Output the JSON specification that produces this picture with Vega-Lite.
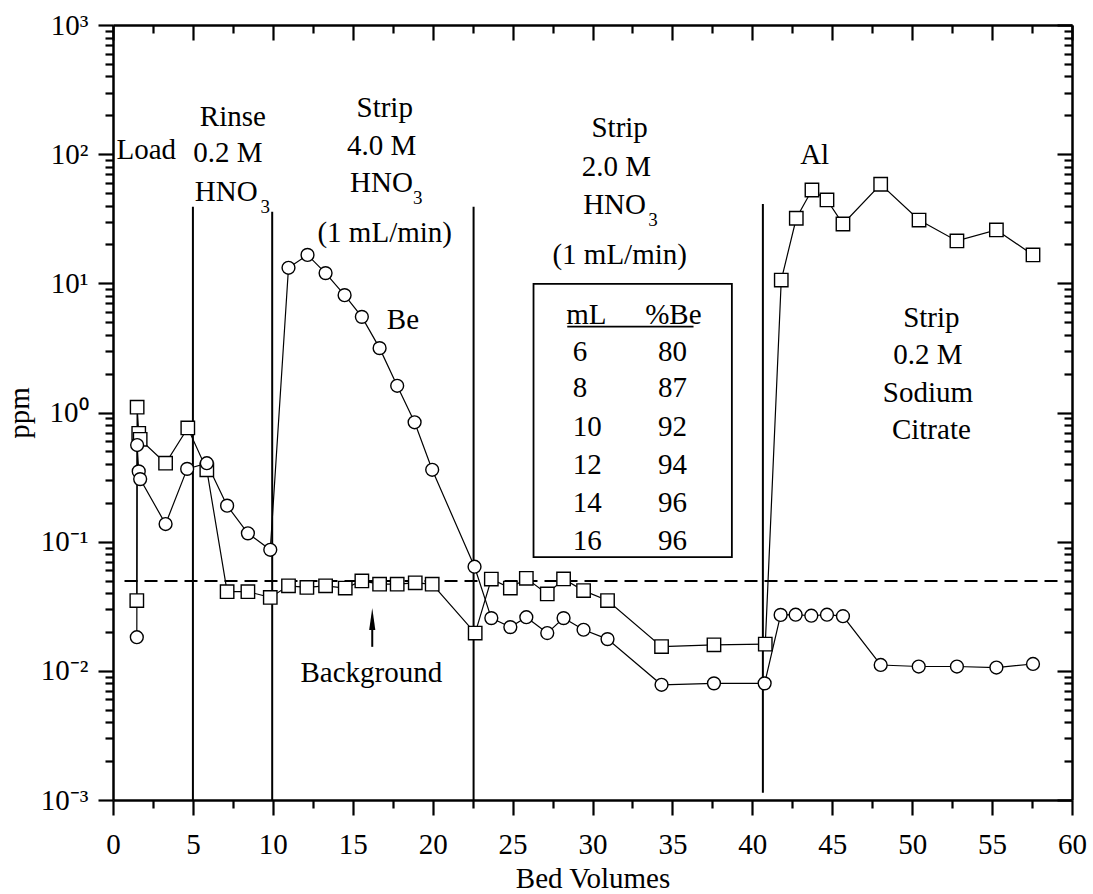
{
  "$schema": "https://vega.github.io/schema/vega-lite/v6.json",
  "autosize": {"type": "none"},
  "padding": {"left": 113, "top": 25, "right": 21, "bottom": 94},
  "width": 959,
  "height": 775,
  "background": "white",
  "config": {
    "view": {"stroke": null},
    "font": "Liberation Serif",
    "axis": {
      "grid": false,
      "ticks": true,
      "domainColor": "black",
      "domainWidth": 2.5,
      "tickColor": "black",
      "tickWidth": 2.2,
      "labelColor": "black",
      "labelFont": "Liberation Serif",
      "labelFontSize": 29,
      "titleFont": "Liberation Serif",
      "titleFontSize": 29,
      "titleFontWeight": "normal",
      "titleColor": "black",
      "labelOverlap": false,
      "labelFlush": false,
      "labelBound": false
    }
  },
  "datasets": {
    "al": [
      {"seq": 1, "bv": 1.49, "ppm": 0.035},
      {"seq": 2, "bv": 1.51, "ppm": 1.1},
      {"seq": 3, "bv": 1.61, "ppm": 0.69},
      {"seq": 4, "bv": 1.7, "ppm": 0.62},
      {"seq": 5, "bv": 3.29, "ppm": 0.405},
      {"seq": 6, "bv": 4.68, "ppm": 0.76},
      {"seq": 7, "bv": 5.87, "ppm": 0.36},
      {"seq": 8, "bv": 7.14, "ppm": 0.041},
      {"seq": 9, "bv": 8.44, "ppm": 0.041},
      {"seq": 10, "bv": 9.84, "ppm": 0.037},
      {"seq": 11, "bv": 10.98, "ppm": 0.0455},
      {"seq": 12, "bv": 12.13, "ppm": 0.0442},
      {"seq": 13, "bv": 13.3, "ppm": 0.0455},
      {"seq": 14, "bv": 14.53, "ppm": 0.0437},
      {"seq": 15, "bv": 15.57, "ppm": 0.0497},
      {"seq": 16, "bv": 16.68, "ppm": 0.0469},
      {"seq": 17, "bv": 17.78, "ppm": 0.0469},
      {"seq": 18, "bv": 18.91, "ppm": 0.048},
      {"seq": 19, "bv": 19.97, "ppm": 0.0469},
      {"seq": 20, "bv": 22.66, "ppm": 0.0196},
      {"seq": 21, "bv": 23.67, "ppm": 0.0513},
      {"seq": 22, "bv": 24.86, "ppm": 0.0437},
      {"seq": 23, "bv": 25.86, "ppm": 0.052},
      {"seq": 24, "bv": 27.17, "ppm": 0.0394},
      {"seq": 25, "bv": 28.19, "ppm": 0.0515},
      {"seq": 26, "bv": 29.44, "ppm": 0.0418},
      {"seq": 27, "bv": 30.94, "ppm": 0.035},
      {"seq": 28, "bv": 34.32, "ppm": 0.0154},
      {"seq": 29, "bv": 37.6, "ppm": 0.0159},
      {"seq": 30, "bv": 40.81, "ppm": 0.0161},
      {"seq": 31, "bv": 41.81, "ppm": 10.6},
      {"seq": 32, "bv": 42.75, "ppm": 31.9},
      {"seq": 33, "bv": 43.73, "ppm": 52.8},
      {"seq": 34, "bv": 44.67, "ppm": 44.2},
      {"seq": 35, "bv": 45.67, "ppm": 28.8},
      {"seq": 36, "bv": 48.03, "ppm": 58.5},
      {"seq": 37, "bv": 50.43, "ppm": 30.9},
      {"seq": 38, "bv": 52.8, "ppm": 21.3},
      {"seq": 39, "bv": 55.27, "ppm": 25.9},
      {"seq": 40, "bv": 57.56, "ppm": 16.6}
    ],
    "be": [
      {"seq": 1, "bv": 1.49, "ppm": 0.0182},
      {"seq": 2, "bv": 1.51, "ppm": 0.56},
      {"seq": 3, "bv": 1.61, "ppm": 0.35},
      {"seq": 4, "bv": 1.7, "ppm": 0.305},
      {"seq": 5, "bv": 3.29, "ppm": 0.137},
      {"seq": 6, "bv": 4.64, "ppm": 0.366},
      {"seq": 7, "bv": 5.87, "ppm": 0.405},
      {"seq": 8, "bv": 7.14, "ppm": 0.19},
      {"seq": 9, "bv": 8.44, "ppm": 0.116},
      {"seq": 10, "bv": 9.84, "ppm": 0.0865},
      {"seq": 11, "bv": 10.98, "ppm": 13.2},
      {"seq": 12, "bv": 12.17, "ppm": 16.6},
      {"seq": 13, "bv": 13.3, "ppm": 12.0},
      {"seq": 14, "bv": 14.49, "ppm": 8.1},
      {"seq": 15, "bv": 15.57, "ppm": 5.5},
      {"seq": 16, "bv": 16.68, "ppm": 3.15},
      {"seq": 17, "bv": 17.78, "ppm": 1.61},
      {"seq": 18, "bv": 18.87, "ppm": 0.84},
      {"seq": 19, "bv": 19.97, "ppm": 0.36},
      {"seq": 20, "bv": 22.62, "ppm": 0.064},
      {"seq": 21, "bv": 23.67, "ppm": 0.0256},
      {"seq": 22, "bv": 24.86, "ppm": 0.0218},
      {"seq": 23, "bv": 25.86, "ppm": 0.026},
      {"seq": 24, "bv": 27.17, "ppm": 0.0196},
      {"seq": 25, "bv": 28.19, "ppm": 0.0256},
      {"seq": 26, "bv": 29.44, "ppm": 0.0208},
      {"seq": 27, "bv": 30.94, "ppm": 0.0176},
      {"seq": 28, "bv": 34.32, "ppm": 0.0078},
      {"seq": 29, "bv": 37.6, "ppm": 0.008},
      {"seq": 30, "bv": 40.77, "ppm": 0.008},
      {"seq": 31, "bv": 41.77, "ppm": 0.0271},
      {"seq": 32, "bv": 42.71, "ppm": 0.0272},
      {"seq": 33, "bv": 43.69, "ppm": 0.0267},
      {"seq": 34, "bv": 44.67, "ppm": 0.0272},
      {"seq": 35, "bv": 45.67, "ppm": 0.0265},
      {"seq": 36, "bv": 48.03, "ppm": 0.0111},
      {"seq": 37, "bv": 50.41, "ppm": 0.0108},
      {"seq": 38, "bv": 52.8, "ppm": 0.0108},
      {"seq": 39, "bv": 55.27, "ppm": 0.0106},
      {"seq": 40, "bv": 57.56, "ppm": 0.0113}
    ],
    "phases": [
      {"bv": 5.0, "top": 39.2, "bottom": 0.001},
      {"bv": 9.96, "top": 35.9, "bottom": 0.001},
      {"bv": 22.56, "top": 39.2, "bottom": 0.001},
      {"bv": 40.66, "top": 41.2, "bottom": 0.00114}
    ],
    "background": [{"from": 0.72, "to": 59.44, "ppm": 0.0497}],
    "arrow": [{"bv": 16.22, "tail": 0.01534, "head": 0.0227, "tip": 0.0252}],
    "labels": [
      {"bv": 2.08, "ppm": 107.8, "text": "Load"},
      {"bv": 7.5, "ppm": 195, "text": "Rinse"},
      {"bv": 7.19, "ppm": 101.6, "text": "0.2 M"},
      {"bv": 7.08, "ppm": 51.3, "text": "HNO"},
      {"bv": 17.0, "ppm": 226.6, "text": "Strip"},
      {"bv": 16.8, "ppm": 115.7, "text": "4.0 M"},
      {"bv": 16.8, "ppm": 59.5, "text": "HNO"},
      {"bv": 17.0, "ppm": 24.4, "text": "(1 mL/min)"},
      {"bv": 31.7, "ppm": 158.6, "text": "Strip"},
      {"bv": 31.49, "ppm": 80, "text": "2.0 M"},
      {"bv": 31.38, "ppm": 40.4, "text": "HNO"},
      {"bv": 31.7, "ppm": 16.6, "text": "(1 mL/min)"},
      {"bv": 18.14, "ppm": 5.21, "text": "Be"},
      {"bv": 43.9, "ppm": 98.6, "text": "Al"},
      {"bv": 51.2, "ppm": 5.37, "text": "Strip"},
      {"bv": 50.99, "ppm": 2.79, "text": "0.2 M"},
      {"bv": 50.99, "ppm": 1.41, "text": "Sodium"},
      {"bv": 51.2, "ppm": 0.733, "text": "Citrate"},
      {"bv": 16.16, "ppm": 0.0096, "text": "Background"}
    ],
    "subs": [
      {"bv": 9.52, "ppm": 39.2, "text": "3"},
      {"bv": 19.07, "ppm": 45.6, "text": "3"},
      {"bv": 33.78, "ppm": 31, "text": "3"}
    ],
    "box": [{"x1": 26.31, "x2": 38.72, "y1": 9.89, "y2": 0.0759}],
    "underline": [{"x1": 28.42, "x2": 36.32, "y": 4.62}],
    "table": [
      {"ml": "mL", "pct": "%Be", "ppm": 5.69, "xl": 28.36, "xr": 35.06},
      {"ml": "6", "pct": "80", "ppm": 2.96, "xl": 28.77, "xr": 35.0},
      {"ml": "8", "pct": "87", "ppm": 1.54, "xl": 28.77, "xr": 35.0},
      {"ml": "10", "pct": "92", "ppm": 0.778, "xl": 28.77, "xr": 35.0},
      {"ml": "12", "pct": "94", "ppm": 0.393, "xl": 28.77, "xr": 35.0},
      {"ml": "14", "pct": "96", "ppm": 0.199, "xl": 28.77, "xr": 35.0},
      {"ml": "16", "pct": "96", "ppm": 0.102, "xl": 28.77, "xr": 35.0}
    ]
  },
  "resolve": {"axis": {"x": "independent", "y": "independent"}},
  "layer": [
    {
      "data": {"name": "phases"},
      "mark": {"type": "rule", "color": "black", "strokeWidth": 2},
      "encoding": {
        "x": {
          "field": "bv", "type": "quantitative",
          "scale": {"domain": [0, 60], "nice": false, "zero": false},
          "axis": {
            "orient": "bottom",
            "title": "Bed Volumes",
            "values": [0, 5, 10, 15, 20, 25, 30, 35, 40, 45, 50, 55, 60],
            "tickSize": 15,
            "labelPadding": 15,
            "titlePadding": 5
          }
        },
        "y": {
          "field": "top", "type": "quantitative",
          "scale": {"type": "log", "domain": [0.001, 1000], "nice": false},
          "axis": {
            "orient": "left",
            "title": "ppm",
            "values": [0.001, 0.01, 0.1, 1, 10, 100, 1000],
            "tickSize": 15,
            "labelExpr": "['10⁻³','10⁻²','10⁻¹','10⁰','10¹','10²','10³'][round(log(datum.value)/LN10)+3]",
            "labelPadding": 10,
            "titlePadding": 6
          }
        },
        "y2": {"field": "bottom"}
      }
    },
    {
      "data": {"name": "background"},
      "mark": {"type": "rule", "color": "black", "strokeWidth": 2, "strokeDash": [13, 7]},
      "encoding": {
        "x": {
          "field": "from", "type": "quantitative",
          "scale": {"domain": [0, 60], "nice": false, "zero": false},
          "axis": {
            "orient": "bottom",
            "title": null,
            "labels": false,
            "domain": false,
            "values": [2.5, 7.5, 12.5, 17.5, 22.5, 27.5, 32.5, 37.5, 42.5, 47.5, 52.5, 57.5],
            "tickSize": 8
          }
        },
        "x2": {"field": "to"},
        "y": {
          "field": "ppm", "type": "quantitative",
          "scale": {"type": "log", "domain": [0.001, 1000], "nice": false},
          "axis": {
            "orient": "left",
            "title": null,
            "labels": false,
            "domain": false,
            "values": [0.002, 0.003, 0.004, 0.005, 0.006, 0.007, 0.008, 0.009, 0.02, 0.03, 0.04, 0.05, 0.06, 0.07, 0.08, 0.09, 0.2, 0.3, 0.4, 0.5, 0.6, 0.7, 0.8, 0.9, 2, 3, 4, 5, 6, 7, 8, 9, 20, 30, 40, 50, 60, 70, 80, 90, 200, 300, 400, 500, 600, 700, 800, 900],
            "tickSize": 8
          }
        }
      }
    },
    {
      "data": {"name": "arrow"},
      "mark": {"type": "rule", "color": "black", "strokeWidth": 2},
      "encoding": {
        "x": {
          "field": "bv", "type": "quantitative",
          "scale": {"domain": [0, 60], "nice": false, "zero": false},
          "axis": {
            "orient": "top",
            "title": null,
            "labels": false,
            "values": [0, 5, 10, 15, 20, 25, 30, 35, 40, 45, 50, 55, 60],
            "tickSize": -15
          }
        },
        "y": {
          "field": "tail", "type": "quantitative",
          "scale": {"type": "log", "domain": [0.001, 1000], "nice": false},
          "axis": {
            "orient": "right",
            "title": null,
            "labels": false,
            "values": [0.001, 0.01, 0.1, 1, 10, 100, 1000],
            "tickSize": -15
          }
        },
        "y2": {"field": "head"}
      }
    },
    {
      "data": {"name": "arrow"},
      "mark": {"type": "point", "shape": "M0,-1L0.28,1L-0.28,1Z", "filled": true, "color": "black", "size": 484, "opacity": 1},
      "encoding": {
        "x": {
          "field": "bv", "type": "quantitative",
          "scale": {"domain": [0, 60], "nice": false, "zero": false},
          "axis": {
            "orient": "top",
            "title": null,
            "labels": false,
            "domain": false,
            "values": [2.5, 7.5, 12.5, 17.5, 22.5, 27.5, 32.5, 37.5, 42.5, 47.5, 52.5, 57.5],
            "tickSize": -8
          }
        },
        "y": {
          "field": "tip", "type": "quantitative",
          "scale": {"type": "log", "domain": [0.001, 1000], "nice": false},
          "axis": {
            "orient": "right",
            "title": null,
            "labels": false,
            "domain": false,
            "values": [0.002, 0.003, 0.004, 0.005, 0.006, 0.007, 0.008, 0.009, 0.02, 0.03, 0.04, 0.05, 0.06, 0.07, 0.08, 0.09, 0.2, 0.3, 0.4, 0.5, 0.6, 0.7, 0.8, 0.9, 2, 3, 4, 5, 6, 7, 8, 9, 20, 30, 40, 50, 60, 70, 80, 90, 200, 300, 400, 500, 600, 700, 800, 900],
            "tickSize": -8
          }
        }
      }
    },
    {
      "data": {"name": "al"},
      "mark": {"type": "line", "color": "black", "strokeWidth": 1.2},
      "encoding": {
        "x": {"field": "bv", "type": "quantitative", "axis": null},
        "y": {"field": "ppm", "type": "quantitative", "axis": null},
        "order": {"field": "seq"}
      }
    },
    {
      "data": {"name": "be"},
      "mark": {"type": "line", "color": "black", "strokeWidth": 1.2},
      "encoding": {
        "x": {"field": "bv", "type": "quantitative", "axis": null},
        "y": {"field": "ppm", "type": "quantitative", "axis": null},
        "order": {"field": "seq"}
      }
    },
    {
      "data": {"name": "al"},
      "mark": {"type": "point", "shape": "square", "filled": true, "fill": "white", "stroke": "black", "strokeWidth": 1.4, "size": 180, "opacity": 1},
      "encoding": {
        "x": {"field": "bv", "type": "quantitative", "axis": null},
        "y": {"field": "ppm", "type": "quantitative", "axis": null}
      }
    },
    {
      "data": {"name": "be"},
      "mark": {"type": "point", "shape": "circle", "filled": true, "fill": "white", "stroke": "black", "strokeWidth": 1.4, "size": 165, "opacity": 1},
      "encoding": {
        "x": {"field": "bv", "type": "quantitative", "axis": null},
        "y": {"field": "ppm", "type": "quantitative", "axis": null}
      }
    },
    {
      "data": {"name": "box"},
      "mark": {"type": "rect", "fill": "white", "fillOpacity": 0, "stroke": "black", "strokeWidth": 1.8},
      "encoding": {
        "x": {"field": "x1", "type": "quantitative", "axis": null},
        "x2": {"field": "x2"},
        "y": {"field": "y1", "type": "quantitative", "axis": null},
        "y2": {"field": "y2"}
      }
    },
    {
      "data": {"name": "underline"},
      "mark": {"type": "rule", "color": "black", "strokeWidth": 1.8},
      "encoding": {
        "x": {"field": "x1", "type": "quantitative", "axis": null},
        "x2": {"field": "x2"},
        "y": {"field": "y", "type": "quantitative", "axis": null}
      }
    },
    {
      "data": {"name": "labels"},
      "mark": {"type": "text", "font": "Liberation Serif", "fontSize": 29, "align": "center", "baseline": "middle", "color": "black"},
      "encoding": {
        "x": {"field": "bv", "type": "quantitative", "axis": null},
        "y": {"field": "ppm", "type": "quantitative", "axis": null},
        "text": {"field": "text"}
      }
    },
    {
      "data": {"name": "subs"},
      "mark": {"type": "text", "font": "Liberation Serif", "fontSize": 19, "align": "center", "baseline": "middle", "color": "black"},
      "encoding": {
        "x": {"field": "bv", "type": "quantitative", "axis": null},
        "y": {"field": "ppm", "type": "quantitative", "axis": null},
        "text": {"field": "text"}
      }
    },
    {
      "data": {"name": "table"},
      "mark": {"type": "text", "font": "Liberation Serif", "fontSize": 29, "align": "left", "baseline": "middle", "color": "black"},
      "encoding": {
        "x": {"field": "xl", "type": "quantitative", "axis": null},
        "y": {"field": "ppm", "type": "quantitative", "axis": null},
        "text": {"field": "ml"}
      }
    },
    {
      "data": {"name": "table"},
      "mark": {"type": "text", "font": "Liberation Serif", "fontSize": 29, "align": "center", "baseline": "middle", "color": "black"},
      "encoding": {
        "x": {"field": "xr", "type": "quantitative", "axis": null},
        "y": {"field": "ppm", "type": "quantitative", "axis": null},
        "text": {"field": "pct"}
      }
    }
  ]
}
